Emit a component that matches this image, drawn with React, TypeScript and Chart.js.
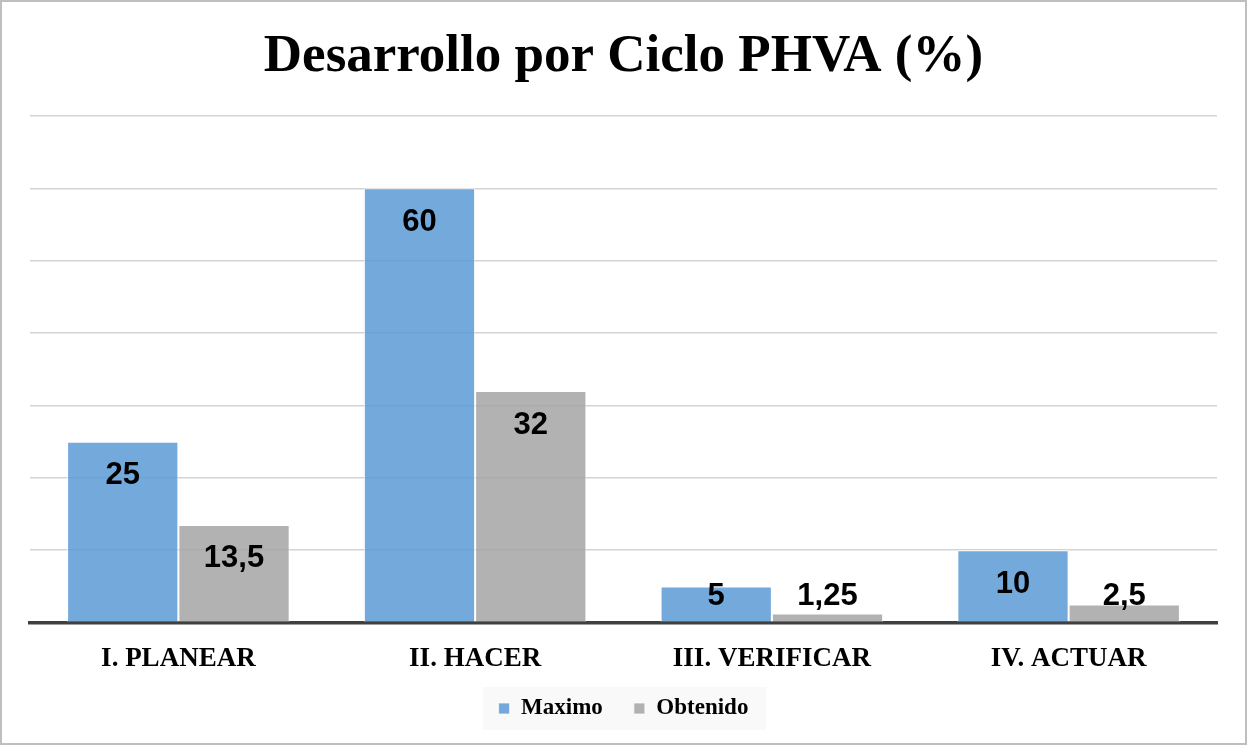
import React, { useEffect, useRef } from "react";
import { Chart, registerables } from "chart.js";

Chart.register(...registerables);

const categories = ["I. PLANEAR", "II. HACER", "III. VERIFICAR", "IV. ACTUAR"];
const maximoValues = [25, 60, 5, 10];
const obtenidoValues = [13.5, 32, 1.25, 2.5];
const seriesNames = ["Maximo", "Obtenido"];
const titleText = "Desarrollo por Ciclo PHVA (%)";

const fmt = (v: number) => String(v).replace(".", ",");

const frameBorder = {
  id: "frameBorder",
  beforeDraw(chart: any) {
    const ctx = chart.ctx;
    ctx.save();
    ctx.fillStyle = "#ffffff";
    ctx.fillRect(0, 0, chart.width, chart.height);
    ctx.strokeStyle = "#bfbfbf";
    ctx.lineWidth = 2;
    ctx.strokeRect(1, 1, chart.width - 2, chart.height - 2);
    ctx.restore();
  },
};

const legendBg = {
  id: "legendBg",
  beforeDraw(chart: any) {
    const lg = chart.legend;
    if (!lg || !lg.legendHitBoxes || !lg.legendHitBoxes.length) return;
    const boxes = lg.legendHitBoxes;
    let minX = Infinity, maxX = -Infinity, minY = Infinity, maxY = -Infinity;
    for (const b of boxes) {
      minX = Math.min(minX, b.left);
      maxX = Math.max(maxX, b.left + b.width);
      minY = Math.min(minY, b.top);
      maxY = Math.max(maxY, b.top + b.height);
    }
    const ctx = chart.ctx;
    ctx.save();
    ctx.fillStyle = "#f9f9f9";
    ctx.fillRect(minX - 16, minY - 10, maxX - minX + 34, maxY - minY + 20);
    ctx.restore();
  },
};

const dataLabels = {
  id: "dataLabels",
  afterDatasetsDraw(chart: any) {
    const ctx = chart.ctx;
    ctx.save();
    ctx.font = "bold 31px 'Liberation Sans', Arial, sans-serif";
    ctx.fillStyle = "#000000";
    ctx.textAlign = "center";
    ctx.textBaseline = "middle";
    chart.data.datasets.forEach((ds: any, i: number) => {
      const meta = chart.getDatasetMeta(i);
      meta.data.forEach((bar: any, j: number) => {
        const y = Math.min(bar.y + 34, bar.base - 25);
        ctx.fillText(fmt(ds.data[j]), bar.x, y);
      });
    });
    ctx.restore();
  },
};

export default function App() {
  const ref = useRef<HTMLCanvasElement>(null);

  useEffect(() => {
    document.body.style.margin = "0";
    if (!ref.current) return;
    const chart = new Chart(ref.current, {
      type: "bar",
      data: {
        labels: categories,
        datasets: [
          {
            label: seriesNames[0],
            data: maximoValues,
            backgroundColor: "rgba(91,155,213,0.85)",
            borderColor: "rgba(255,255,255,0.7)",
            borderWidth: 1,
            categoryPercentage: 0.75,
            barPercentage: 1,
          },
          {
            label: seriesNames[1],
            data: obtenidoValues,
            backgroundColor: "rgba(165,165,165,0.85)",
            borderColor: "rgba(255,255,255,0.7)",
            borderWidth: 1,
            categoryPercentage: 0.75,
            barPercentage: 1,
          },
        ],
      },
      options: {
        responsive: false,
        animation: false,
        layout: { padding: { left: 30, right: 30, top: 0, bottom: 15 } },
        plugins: {
          title: {
            display: true,
            text: titleText,
            color: "#000000",
            font: { family: "'Liberation Serif', 'Times New Roman', serif", size: 53, weight: "bold" },
            padding: { top: 26, bottom: 26.4 },
          },
          legend: {
            display: true,
            position: "bottom",
            labels: {
              boxWidth: 11,
              boxHeight: 11,
              color: "#000000",
              padding: 31,
              font: { family: "'Liberation Serif', 'Times New Roman', serif", size: 23, weight: "bold" },
            },
          },
          tooltip: { enabled: false },
        },
        scales: {
          x: {
            grid: { display: false, drawTicks: false },
            border: { display: true, color: "#404040", width: 3.5 },
            ticks: {
              color: "#000000",
              padding: 20,
              font: { family: "'Liberation Serif', 'Times New Roman', serif", size: 27, weight: "bold" },
            },
            afterFit: (scale: any) => {
              scale.height = scale.height - 29;
            },
          },
          y: {
            min: 0,
            max: 70,
            ticks: { display: false, stepSize: 10 },
            grid: { color: "#d4d4d4", lineWidth: 1.5, drawTicks: false },
            border: { display: false },
          },
        },
      },
      plugins: [frameBorder, legendBg, dataLabels],
    });
    return () => chart.destroy();
  }, []);

  return (
    <div style={{ width: 1247, height: 745 }}>
      <canvas ref={ref} width={1247} height={745} style={{ display: "block" }} />
    </div>
  );
}
